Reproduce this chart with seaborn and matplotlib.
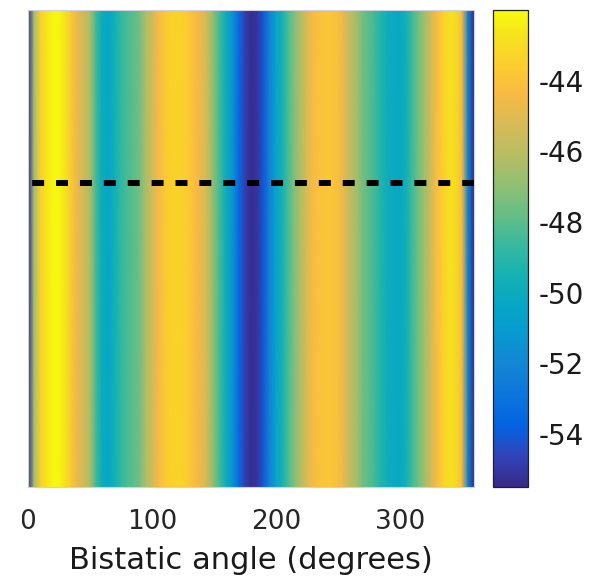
import numpy as np
import pandas as pd
import matplotlib
matplotlib.use("Agg")
import matplotlib.pyplot as plt
from matplotlib.colors import LinearSegmentedColormap
from matplotlib.patches import Rectangle
import seaborn as sns

# ---- data ----
angles = list(range(0, 361, 5))  # bistatic angle (degrees)
values = [-55.5, -46.5, -43.5, -42.6, -42.2, -42.2, -42.7, -43.8, -44.8, -45.5,
          -46.3, -48.5, -50.0, -50.3, -49.6, -48.8, -48.3, -48.0, -47.5, -46.3,
          -45.5, -44.5, -43.8, -43.4, -43.3, -43.4, -43.8, -44.3, -44.8, -45.6,
          -47.2, -48.5, -50.0, -51.4, -53.3, -54.8, -55.3, -55.1, -54.0, -52.2,
          -50.6, -49.5, -48.3, -47.2, -46.2, -45.2, -44.4, -44.0, -43.9, -43.9,
          -44.2, -45.0, -45.8, -46.5, -47.5, -48.0, -48.5, -49.2, -49.8, -50.1,
          -50.2, -49.6, -48.5, -47.5, -46.5, -45.5, -44.3, -43.4, -42.8, -43.0,
          -44.3, -52.0, -55.5]
rows = ["r0", "r1"]  # field is constant along the vertical axis
x_tick_values = [0, 100, 200, 300]
x_tick_labels = ["0", "100", "200", "300"]
cbar_ticks = [-54, -52, -50, -48, -46, -44]
cbar_tick_labels = ["-54", "-52", "-50", "-48", "-46", "-44"]
vmin, vmax = -55.5, -42.0
dashed_level = 0.363  # fraction of height from top

# ---- parula-like colormap ----
parula_pts = [
    (0.2081, 0.1663, 0.5292), (0.1959, 0.2645, 0.7279), (0.0117, 0.3875, 0.8820),
    (0.0498, 0.4586, 0.8641), (0.0793, 0.5200, 0.8312), (0.0343, 0.5966, 0.8199),
    (0.0228, 0.6535, 0.7768), (0.0843, 0.6928, 0.7062), (0.2178, 0.7250, 0.6193),
    (0.3953, 0.7459, 0.5244), (0.5709, 0.7485, 0.4494), (0.7184, 0.7411, 0.3905),
    (0.8507, 0.7299, 0.3360), (0.9739, 0.7314, 0.2666), (0.9880, 0.8066, 0.1794),
    (0.9589, 0.8949, 0.1132), (0.9763, 0.9831, 0.0538)]
parula_idx = [0, 4, 8, 12, 16, 20, 24, 28, 32, 36, 40, 44, 48, 52, 56, 60, 63]
parula = LinearSegmentedColormap.from_list(
    "parula", [(i / 63, c) for i, c in zip(parula_idx, parula_pts)], N=256)

df = pd.DataFrame([values for _ in rows], index=rows, columns=angles)

sns.set_theme(style="white")
plt.rcParams["font.family"] = ["DejaVu Sans"]
plt.rcParams["axes.unicode_minus"] = False

W, H = 590, 579
fig = plt.figure(figsize=(W / 100, H / 100), dpi=100)
ax = fig.add_axes([28 / W, 1 - 487 / H, (474 - 28) / W, (487 - 10) / H])
cax = fig.add_axes([493 / W, 1 - 487 / H, (528 - 493) / W, (487 - 10) / H])

sns.heatmap(df, ax=ax, cbar_ax=cax, cmap=parula, vmin=vmin, vmax=vmax,
            shading="gouraud", xticklabels=False, yticklabels=False)

ncol = len(angles)
ax.set_xlim(0, ncol - 1)
ax.set_ylim(1, 0)
idx = np.arange(ncol)
ax.set_xticks(np.interp(x_tick_values, angles, idx))
ax.set_xticklabels(x_tick_labels, fontsize=19, color="#262626")
ax.set_yticks([])
ax.tick_params(axis="x", length=0, pad=16)
ax.set_xlabel("Bistatic angle (degrees)", fontsize=22, color="#1a1a1a", labelpad=8)
ax.set_ylabel("")
for s in ax.spines.values():
    s.set_visible(True)
    s.set_color("#d0d0e0")
    s.set_linewidth(0.8)

lw_pt = 4.3
ax.axhline(dashed_level, color="black", linewidth=lw_pt,
           linestyle=(3.3, (2.0, 2.0)), dash_capstyle="butt")

cb = ax.collections[0].colorbar
cb.outline.set_linewidth(0.9)
cb.outline.set_edgecolor("#222222")
cb.set_ticks(cbar_ticks)
cb.set_ticklabels(cbar_tick_labels)
cax.tick_params(axis="y", direction="in", length=4, width=0.8, colors="#222222",
                labelsize=20, labelcolor="#1a1a1a", pad=8, right=True, left=False)

# the leftmost tick label is partially hidden in the original
fig.add_artist(Rectangle((0, 1 - 545 / H), 22 / W, 50 / H, transform=fig.transFigure,
                         facecolor="white", edgecolor="none", zorder=10))

fig.savefig("out.png", dpi=100)
